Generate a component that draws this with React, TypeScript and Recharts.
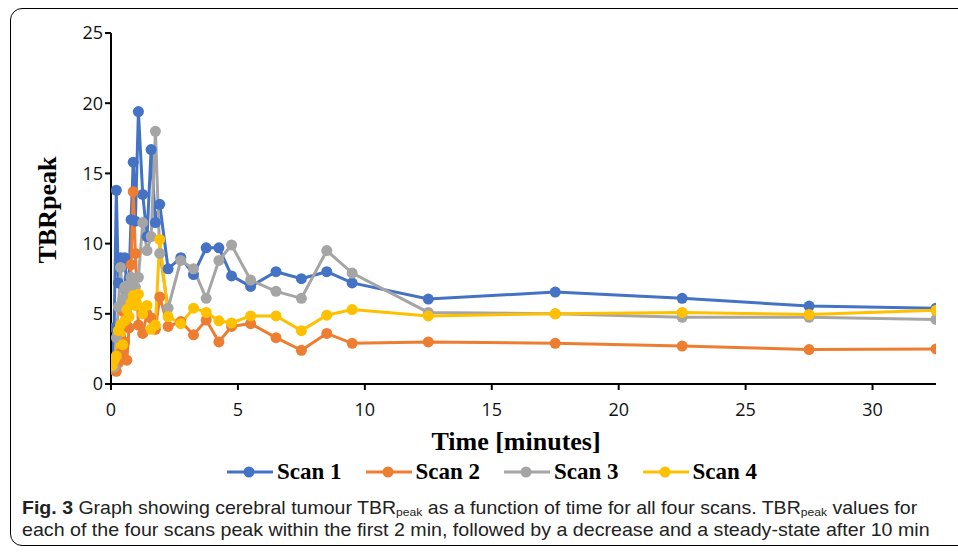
import { useLayoutEffect, useRef, useState } from "react";
import type { ReactNode } from "react";
import { LineChart, Line, XAxis, YAxis } from "recharts";

// frame mid-times in minutes
const TIME = [
    0.04, 0.125, 0.21, 0.29, 0.375, 0.46, 0.54, 0.625, 0.71, 0.79, 0.875, 0.96,
    1.08, 1.25, 1.42, 1.58, 1.75, 1.92, 2.25, 2.75, 3.25, 3.75, 4.25, 4.75, 5.5,
    6.5, 7.5, 8.5, 9.5, 12.5, 17.5, 22.5, 27.5, 32.5,
];
const SCAN1 = [
    1.1, 4.0, 13.8, 7.2, 9.0, 8.9, 9.0, 6.8, 7.5, 11.7, 15.8, 11.6, 19.4, 13.5,
    10.5, 16.7, 11.5, 12.8, 8.2, 9.0, 7.8, 9.7, 9.7, 7.7, 6.95, 8.0, 7.5, 8.0,
    7.2, 6.05, 6.55, 6.1, 5.55, 5.4,
];
const SCAN2 = [
    1.3, 1.0, 0.9, 1.5, 2.2, 5.2, 3.0, 1.7, 4.0, 8.5, 13.7, 9.3, 4.2, 3.6, 5.0,
    4.7, 3.9, 6.2, 4.1, 4.45, 3.5, 4.55, 3.0, 4.1, 4.3, 3.3, 2.4, 3.6, 2.9, 3.0,
    2.9, 2.7, 2.45, 2.5,
];
const SCAN3 = [
    1.3, 1.2, 3.3, 5.5, 8.3, 6.0, 6.9, 7.0, 6.5, 7.6, 7.0, 6.9, 7.6, 11.5, 9.5,
    10.5, 18.0, 9.3, 5.4, 8.8, 8.2, 6.1, 8.8, 9.9, 7.4, 6.6, 6.1, 9.5, 7.9, 5.1,
    5.0, 4.75, 4.75, 4.6,
];
const SCAN4 = [
    1.3, 1.7, 2.0, 3.8, 4.2, 2.8, 4.5, 5.3, 4.8, 5.8, 6.3, 5.6, 6.4, 5.0, 5.6,
    3.9, 4.2, 10.3, 4.8, 4.3, 5.4, 5.1, 4.5, 4.35, 4.85, 4.85, 3.8, 4.9, 5.3,
    4.85, 5.0, 5.1, 4.95, 5.25,
];
const X_TICKS = [0, 5, 10, 15, 20, 25, 30];
const Y_TICKS = [0, 5, 10, 15, 20, 25];

const SERIES = [
    { key: "s1", name: "Scan 1", color: "#4472C4", values: SCAN1 },
    { key: "s2", name: "Scan 2", color: "#ED7D31", values: SCAN2 },
    { key: "s3", name: "Scan 3", color: "#A5A5A5", values: SCAN3 },
    { key: "s4", name: "Scan 4", color: "#FFC000", values: SCAN4 },
];

const data = TIME.map((t, i) => {
    const row: Record<string, number> = { t };
    SERIES.forEach((s) => {
        row[s.key] = s.values[i];
    });
    return row;
});

const tickStyle = { fontFamily: "'Open Sans', sans-serif", fontSize: 18, fill: "#111" };
const serif = "'Liberation Serif', 'Times New Roman', serif";

// squeezes a caption line to the width it has in the figure
function FitLine({ width, top, children }: { width: number; top: number; children: ReactNode }) {
    const ref = useRef<HTMLDivElement>(null);
    const [scale, setScale] = useState(1);
    useLayoutEffect(() => {
        if (ref.current) {
            const w = ref.current.scrollWidth;
            if (w > 0) setScale(width / w);
        }
    }, [width]);
    return (
        <div
            ref={ref}
            style={{
                position: "absolute",
                left: 22,
                top,
                whiteSpace: "nowrap",
                fontFamily: "'Liberation Sans Narrow', 'Liberation Sans', sans-serif",
                fontSize: 18.5,
                lineHeight: "20px",
                height: 20,
                color: "#222",
                transform: `scaleX(${scale})`,
                transformOrigin: "left top",
            }}
        >
            {children}
        </div>
    );
}

const Sub = ({ children }: { children: ReactNode }) => (
    <sub style={{ fontSize: 11.5, verticalAlign: -2, lineHeight: 0 }}>{children}</sub>
);

export default function App() {
    return (
        <div
            style={{
                position: "absolute",
                left: 0,
                top: 0,
                width: 958,
                height: 553,
                background: "#fff",
                overflow: "hidden",
            }}
        >
            <div
                style={{
                    position: "absolute",
                    left: 10,
                    top: 8,
                    width: 1000,
                    height: 536,
                    border: "1.5px solid #000",
                    borderRadius: 12,
                }}
            />
            <LineChart
                width={958}
                height={420}
                data={data}
                margin={{ top: 33, right: 22, left: 51, bottom: 6 }}
                style={{ position: "absolute", left: 0, top: 0 }}
            >
                <XAxis
                    dataKey="t"
                    type="number"
                    domain={[0, 32.5]}
                    ticks={X_TICKS}
                    allowDataOverflow
                    height={30}
                    axisLine={{ stroke: "#000", strokeWidth: 2 }}
                    tickLine={{ stroke: "#000", strokeWidth: 2 }}
                    tickSize={6}
                    tickMargin={13}
                    tick={tickStyle}
                />
                <YAxis
                    type="number"
                    domain={[0, 25]}
                    ticks={Y_TICKS}
                    width={60}
                    axisLine={{ stroke: "#000", strokeWidth: 2 }}
                    tickLine={{ stroke: "#000", strokeWidth: 2 }}
                    tickSize={6}
                    tickMargin={2}
                    tick={tickStyle}
                />
                {SERIES.map((s) => (
                    <Line
                        key={s.key}
                        dataKey={s.key}
                        name={s.name}
                        type="linear"
                        stroke={s.color}
                        strokeWidth={3}
                        dot={{ r: 5.5, fill: s.color, stroke: s.color, strokeWidth: 0 }}
                        isAnimationActive={false}
                    />
                ))}
            </LineChart>

            <div
                style={{
                    position: "absolute",
                    left: 48,
                    top: 210,
                    transform: "translate(-50%, -50%) rotate(-90deg)",
                    fontFamily: serif,
                    fontWeight: "bold",
                    fontSize: 26,
                    whiteSpace: "nowrap",
                    lineHeight: 1,
                }}
            >
                TBRpeak
            </div>
            <div
                style={{
                    position: "absolute",
                    left: 516,
                    top: 429,
                    transform: "translateX(-50%)",
                    fontFamily: serif,
                    fontWeight: "bold",
                    fontSize: 26,
                    whiteSpace: "nowrap",
                    lineHeight: 1,
                }}
            >
                Time [minutes]
            </div>

            {SERIES.map((s, i) => (
                <div
                    key={s.key}
                    style={{
                        position: "absolute",
                        left: 227 + i * 138.5,
                        top: 460,
                        display: "flex",
                        alignItems: "center",
                        whiteSpace: "nowrap",
                    }}
                >
                    <svg width={46} height={24}>
                        <line x1={0} y1={12} x2={46} y2={12} stroke={s.color} strokeWidth={3} />
                        <circle cx={22} cy={12} r={5.5} fill={s.color} />
                    </svg>
                    <span
                        style={{
                            marginLeft: 4,
                            fontFamily: serif,
                            fontWeight: "bold",
                            fontSize: 23,
                            lineHeight: "24px",
                        }}
                    >
                        {s.name}
                    </span>
                </div>
            ))}

            <FitLine width={895} top={498}>
                <b>Fig. 3</b> Graph showing cerebral tumour TBR<Sub>peak</Sub> as a function of time for
                all four scans. TBR<Sub>peak</Sub> values for
            </FitLine>
            <FitLine width={908} top={520}>
                each of the four scans peak within the first 2 min, followed by a decrease and a
                steady-state after 10 min
            </FitLine>
        </div>
    );
}
